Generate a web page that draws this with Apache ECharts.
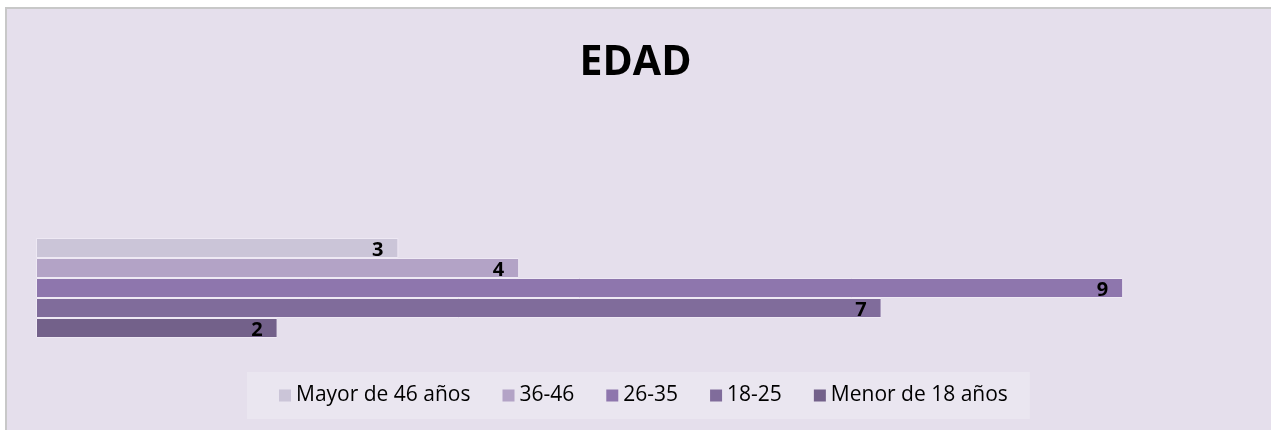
<!DOCTYPE html>
<html>
<head>
    <meta charset="utf-8" />
    <title>EDAD</title>
    <style>
        html, body { margin: 0; padding: 0; background: #fff; }
        #divChart { width: 1271px; height: 430px; }
    </style>
</head>
<body>
    <div id="divChart"></div>
    <script src="https://cdn.jsdelivr.net/npm/echarts@6/dist/echarts.min.js"></script>
    <script>
        // datos
        var titulo = 'EDAD';
        var grupos = ['Mayor de 46 años', '36-46', '26-35', '18-25', 'Menor de 18 años'];
        var valores = [3, 4, 9, 7, 2];
        var colores = ['#CBC5D8', '#B3A3C6', '#8E76AD', '#806C9B', '#73618A'];

        var myChart = echarts.init(document.getElementById('divChart'));

        var series = grupos.map(function (g, i) {
            return {
                name: g,
                type: 'bar',
                data: [valores[i]],
                barGap: '0%',
                barCategoryGap: '0%',
                itemStyle: { color: colores[i], borderColor: '#EEE9F4', borderWidth: 1 },
                label: {
                    show: true,
                    position: 'insideRight',
                    distance: 15,
                    offset: [0, 2],
                    color: '#000',
                    fontFamily: 'Open Sans',
                    fontWeight: 'bold',
                    fontSize: 20
                },
                emphasis: { disabled: true }
            };
        });

        var option = {
            backgroundColor: '#fff',
            animation: false,
            graphic: [
                { type: 'rect', z: -10, shape: { x: 5, y: 7, width: 1280, height: 440 }, style: { fill: '#C8C8C8' } },
                { type: 'rect', z: -9, shape: { x: 7, y: 9, width: 1280, height: 440 }, style: { fill: '#E5DFEC' } }
            ],
            title: {
                text: titulo,
                left: 'center',
                top: 38,
                textStyle: { fontFamily: 'Open Sans', fontWeight: 'bold', fontSize: 41, color: '#000' }
            },
            grid: { left: 36, top: 238, width: 1208, height: 100 },
            xAxis: {
                type: 'value',
                min: 0,
                max: 10,
                show: false
            },
            yAxis: {
                type: 'category',
                data: [''],
                inverse: true,
                show: false
            },
            legend: {
                data: grupos,
                left: 247,
                top: 372,
                padding: [13, 22, 13, 32],
                backgroundColor: '#EAE6F0',
                itemWidth: 12,
                itemHeight: 12,
                itemGap: 32,
                icon: 'rect',
                itemStyle: { borderWidth: 0 },
                textStyle: { fontFamily: 'Open Sans', fontSize: 21, color: '#000', lineHeight: 20 }
            },
            series: series
        };
        myChart.setOption(option);
    </script>
</body>
</html>
